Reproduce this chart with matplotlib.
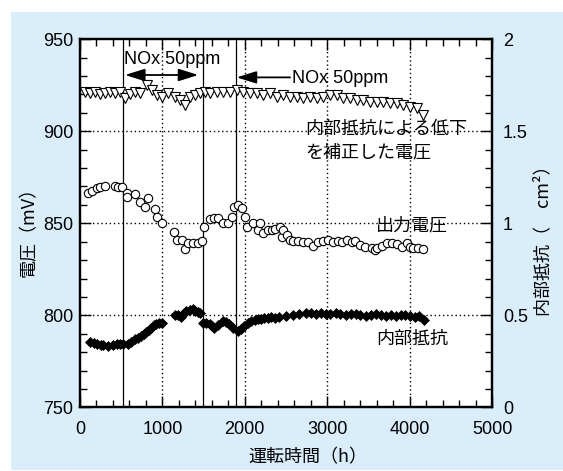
import matplotlib
matplotlib.use("Agg")
import matplotlib.pyplot as plt
from matplotlib.patches import Rectangle
from matplotlib.ticker import MultipleLocator, FixedLocator, FixedFormatter

# Output voltage (mV) vs operating time (h)
out_hours = [101, 142, 202, 243, 303, 425, 465, 506, 566, 575, 667, 728, 789, 829,
             910, 931, 999, 1144, 1174, 1234, 1274, 1314, 1375, 1436, 1477, 1505,
             1578, 1630, 1678, 1739, 1800, 1841, 1873, 1921, 1962, 2002, 2023, 2103,
             2164, 2184, 2225, 2285, 2326, 2367, 2427, 2448, 2467, 2508, 2549, 2589,
             2649, 2710, 2771, 2831, 2892, 2953, 3013, 3074, 3135, 3176, 3237, 3297,
             3337, 3398, 3459, 3540, 3580, 3608, 3661, 3722, 3783, 3843, 3904, 3965,
             4005, 4045, 4106, 4159]
out_mv = [866.6, 867.7, 869.0, 869.9, 870.3, 870.3, 869.9, 869.6, 866.6, 864.5,
          865.9, 861.7, 859.0, 863.6, 857.6, 853.6, 850.3, 845.1, 840.9, 840.9,
          835.9, 839.1, 839.5, 839.5, 840.5, 847.8, 852.2, 853.0, 852.7, 850.0,
          850.3, 853.6, 859.0, 859.9, 858.2, 853.6, 848.2, 850.0, 846.4, 850.3,
          844.6, 846.4, 846.5, 846.9, 848.2, 842.7, 846.4, 843.6, 840.9, 840.5,
          840.5, 840.0, 840.0, 837.7, 840.0, 840.5, 840.9, 840.0, 840.5, 840.0,
          840.9, 840.0, 840.5, 838.2, 837.3, 836.4, 835.5, 836.4, 837.7, 839.1,
          839.5, 838.8, 837.3, 839.1, 837.3, 836.4, 836.4, 835.9]

# Voltage corrected for the internal-resistance loss (mV)
corr_hours = [61, 121, 182, 243, 303, 364, 425, 485, 546, 607, 667, 728, 809, 870,
              930, 991, 1072, 1153, 1214, 1274, 1335, 1396, 1456, 1517, 1578, 1659,
              1739, 1820, 1901, 1982, 2063, 2144, 2225, 2306, 2387, 2468, 2549, 2630,
              2710, 2791, 2872, 2953, 3034, 3115, 3196, 3277, 3358, 3439, 3519, 3600,
              3681, 3762, 3843, 3924, 4005, 4086, 4166]
corr_mv = [921.5, 920.6, 921.5, 920.3, 921.0, 921.5, 920.6, 921.5, 917.9, 920.3,
           921.5, 920.6, 925.2, 922.4, 919.7, 918.8, 920.6, 918.8, 917.0, 914.3,
           918.8, 919.7, 920.6, 921.5, 920.6, 921.5, 921.5, 921.5, 922.4, 921.5,
           920.6, 920.6, 919.7, 920.6, 918.8, 919.7, 918.8, 918.8, 917.9, 918.8,
           917.9, 918.8, 919.7, 919.7, 917.9, 917.9, 917.0, 917.0, 916.1, 916.1,
           916.1, 915.2, 915.2, 914.3, 913.4, 912.5, 908.9]

# Internal resistance (ohm cm2)
res_hours = [121, 170, 202, 250, 282, 343, 400, 443, 480, 524, 584, 620, 665, 700,
             746, 780, 806, 840, 867, 900, 927, 960, 995, 1149, 1190, 1229, 1260,
             1290, 1330, 1370, 1400, 1431, 1460, 1491, 1530, 1572, 1600, 1632, 1680,
             1733, 1770, 1814, 1860, 1914, 1950, 1995, 2040, 2076, 2120, 2156, 2200,
             2237, 2280, 2318, 2370, 2418, 2500, 2580, 2660, 2741, 2800, 2862, 2920,
             2983, 3040, 3104, 3160, 3225, 3290, 3346, 3400, 3467, 3530, 3588, 3650,
             3709, 3770, 3830, 3890, 3950, 4010, 4071, 4120, 4172]
res_ohm = [0.357, 0.350, 0.346, 0.340, 0.339, 0.333, 0.340, 0.346, 0.344, 0.342,
           0.346, 0.355, 0.370, 0.378, 0.388, 0.400, 0.411, 0.420, 0.433, 0.445,
           0.451, 0.458, 0.460, 0.502, 0.500, 0.491, 0.510, 0.524, 0.528, 0.533,
           0.525, 0.520, 0.510, 0.460, 0.458, 0.451, 0.440, 0.430, 0.450, 0.469,
           0.462, 0.451, 0.430, 0.415, 0.428, 0.442, 0.458, 0.469, 0.474, 0.479,
           0.480, 0.484, 0.488, 0.491, 0.488, 0.491, 0.496, 0.502, 0.508, 0.515,
           0.510, 0.509, 0.512, 0.509, 0.505, 0.515, 0.508, 0.502, 0.506, 0.509,
           0.502, 0.497, 0.503, 0.506, 0.500, 0.497, 0.501, 0.497, 0.500, 0.502,
           0.497, 0.491, 0.495, 0.473]

nox_switch_hours = [520, 1495, 1890]
x_ticks = [0, 1000, 2000, 3000, 4000, 5000]
left_ticks = [750, 800, 850, 900, 950]
right_ticks = [0, 0.5, 1, 1.5, 2]
right_tick_labels = ["0", "0.5", "1", "1.5", "2"]
grid_x = [1000, 2000, 3000, 4000]
grid_y = [800, 850, 900]

SANS = ["Liberation Sans", "DejaVu Sans"]
CJK = ["Noto Sans CJK JP", "DejaVu Sans"]
plt.rcParams["font.family"] = SANS

W, H = 563, 471
fig = plt.figure(figsize=(W / 100, H / 100), dpi=100)
fig.patch.set_facecolor("white")
fig.add_artist(Rectangle((11 / W, 1 / H), 1 - 11 / W, (470 - 12) / H,
                         transform=fig.transFigure, facecolor="#daedfb",
                         edgecolor="none", zorder=0))

ax = fig.add_axes([80 / W, 1 - 407.3 / H, (492 - 80) / W, (407.3 - 39.3) / H])
ax.set_facecolor("white")
ax.set_xlim(0, 5000)
ax.set_ylim(750, 950)

# dotted reference grid
for gx in grid_x:
    ax.axvline(gx, color="black", lw=1.0, ls=(0, (1, 2)), zorder=1)
for gy in grid_y:
    ax.axhline(gy, color="black", lw=1.0, ls=(0, (1, 2)), zorder=1)

# NOx dosing boundaries
for hx in nox_switch_hours:
    ax.axvline(hx, color="black", lw=0.9, zorder=1.5)

ax.plot(corr_hours, corr_mv, ls="none", marker="v", ms=7, mfc="white",
        mec="black", mew=0.8, zorder=3)
ax.plot(out_hours, out_mv, ls="none", marker="o", ms=6, mfc="white",
        mec="black", mew=0.8, zorder=3)

tick_font = dict(labelsize=13)
ax.xaxis.set_major_locator(FixedLocator(x_ticks))
ax.xaxis.set_minor_locator(MultipleLocator(200))
ax.yaxis.set_major_locator(FixedLocator(left_ticks))
ax.yaxis.set_minor_locator(MultipleLocator(10))
ax.tick_params(axis="both", which="both", direction="in", top=True, right=False,
               width=1.0, **tick_font)
ax.tick_params(axis="both", which="major", length=8)
ax.tick_params(axis="both", which="minor", length=5)
ax.tick_params(axis="x", which="both", pad=10)
ax.tick_params(axis="y", which="both", pad=5)
for s in ax.spines.values():
    s.set_linewidth(1.6)

ax2 = ax.twinx()
ax2.set_ylim(0, 2)
ax2.plot(res_hours, res_ohm, ls="none", marker="D", ms=5.5, mfc="black",
         mec="black", mew=0.5, zorder=3)
ax2.yaxis.set_major_locator(FixedLocator(right_ticks))
ax2.yaxis.set_major_formatter(FixedFormatter(right_tick_labels))
ax2.yaxis.set_minor_locator(MultipleLocator(0.1))
ax2.tick_params(axis="y", which="both", direction="in", width=1.0, pad=8, **tick_font)
ax2.tick_params(axis="y", which="major", length=8)
ax2.tick_params(axis="y", which="minor", length=5)
for s in ax2.spines.values():
    s.set_linewidth(1.6)

# NOx annotations
ax.annotate("", xy=(546, 930.6), xytext=(1436, 930.6),
            arrowprops=dict(arrowstyle="<|-|>,head_length=0.8,head_width=0.25",
                            lw=1.3, color="black", shrinkA=0, shrinkB=0,
                            mutation_scale=15), zorder=4)
ax.text(1123, 936.4, "NOx 50ppm", ha="center", va="baseline", fontsize=13,
        family=SANS, zorder=4)
ax.annotate("", xy=(1901, 929.3), xytext=(2549, 929.3),
            arrowprops=dict(arrowstyle="-|>,head_length=0.8,head_width=0.25",
                            lw=1.3, color="black", shrinkA=0, shrinkB=0,
                            mutation_scale=15), zorder=4)
ax.text(2569, 926.1, "NOx 50ppm", ha="left", va="baseline", fontsize=13,
        family=SANS, zorder=4)

# series labels
ax.text(2731, 901.1, "内部抵抗による低下", ha="left", va="center", fontsize=13,
        family=CJK, zorder=4)
ax.text(2731, 888.5, "を補正した電圧", ha="left", va="center", fontsize=13,
        family=CJK, zorder=4)
ax.text(3592, 848.6, "出力電圧", ha="left", va="center", fontsize=13,
        family=CJK, zorder=4)
ax.text(3592, 787.0, "内部抵抗", ha="left", va="center", fontsize=13,
        family=CJK, zorder=4)

# axis titles
fig.text(29 / W, 1 - 227 / H, "電圧（mV）", rotation=90, ha="center", va="center",
         fontsize=13, family=CJK)
fig.text(543 / W, 1 - 236 / H, "内部抵抗（　cm²）", rotation=90, ha="center",
         va="center", fontsize=13, family=CJK)
fig.text(308 / W, 1 - 457 / H, "運転時間（h）", ha="center", va="center",
         fontsize=13, family=CJK)

fig.savefig("out.png", dpi=100, facecolor=fig.get_facecolor())
